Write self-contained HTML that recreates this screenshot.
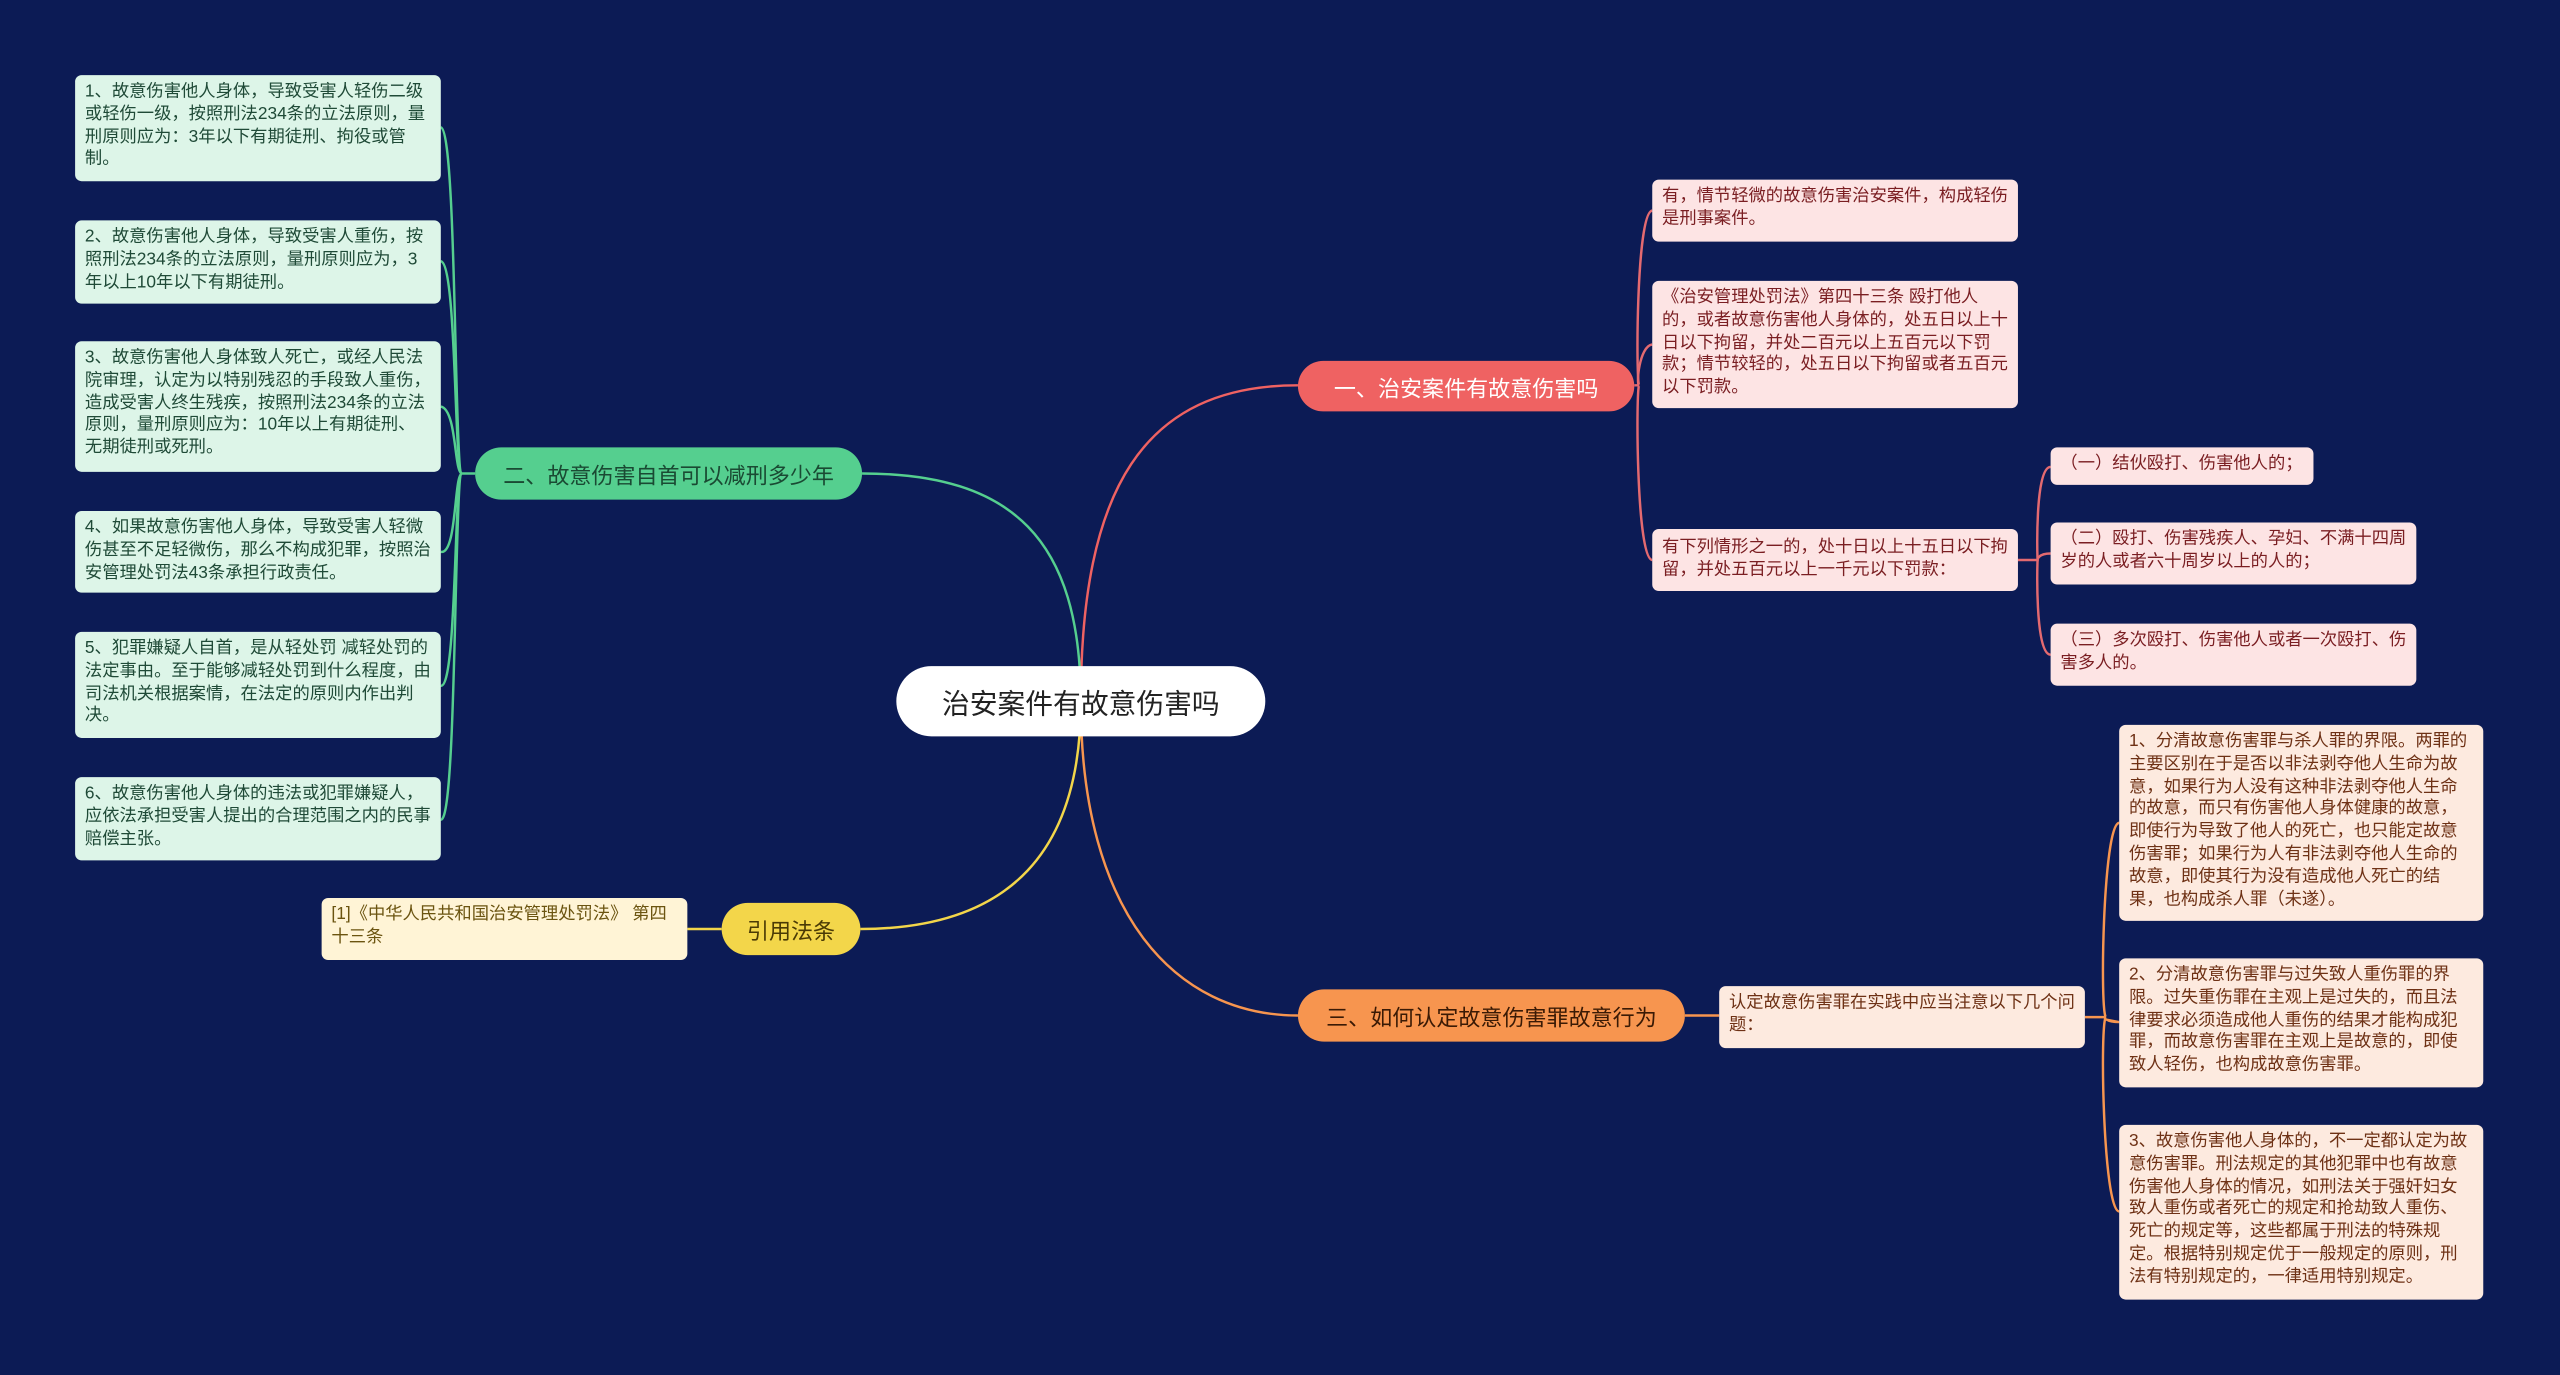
<!DOCTYPE html>
<html><head><meta charset="utf-8"><style>
html,body{margin:0;padding:0;background:#0c1b55;overflow:hidden}
#s{position:absolute;left:0;top:0;width:1568px;height:842px;transform:scale(1.63265);transform-origin:0 0;font-family:"Liberation Sans","Noto Sans CJK SC",sans-serif}
.b{position:absolute;box-sizing:border-box;border-radius:4px;font-size:10.6px;line-height:13.8px;padding:4px 6px;word-break:break-all}
.g{background:#ddf5e8;color:#1f4a37}
.r{background:#fde4e4;color:#7a1e22}
.o{background:#fdeadf;color:#6e3115}
.y{background:#fff4d6;color:#6b5410}
.m{position:absolute;box-sizing:border-box;border-radius:16px;font-size:13.5px;display:flex;align-items:center;justify-content:center;color:#fff}
svg{position:absolute;left:0;top:0}
</style></head><body><div id="s">
<svg width="1568" height="842" fill="none" stroke-width="1.5">
<path d="M662,430 C662,300 700,236 795,236" stroke="#ef6262"/>
<path d="M662,430 C662,330 620,290 528,290" stroke="#55cf8f"/>
<path d="M662,430 C662,520 620,569 527,569" stroke="#f3d64a"/>
<path d="M662,430 C662,560 720,622 795,622" stroke="#f7954f"/>
<g stroke="#55cf8f">
<path d="M291,290 H283 C278,290 280,80 270,78"/>
<path d="M283,290 C278,290 280,162 270,160"/>
<path d="M283,290 C278,290 280,251 270,249"/>
<path d="M283,290 C278,290 280,340 270,338"/>
<path d="M283,290 C278,290 280,422 270,420"/>
<path d="M283,290 C278,290 280,504 270,502"/>
</g>
<g stroke="#e46a70">
<path d="M1001,236 H1004 C1002,236 1002,130 1012,129"/>
<path d="M1004,236 C1002,236 1004,212 1012,211"/>
<path d="M1004,236 C1002,236 1002,342 1012,343"/>
<path d="M1236,343 H1248 C1248,343 1246,286 1256,286"/>
<path d="M1248,343 C1248,343 1248,339 1256,339"/>
<path d="M1248,343 C1248,343 1246,401 1256,401"/>
</g>
<path d="M442,569 H421" stroke="#f3d64a"/>
<g stroke="#f7954f">
<path d="M1032,622 H1053"/>
<path d="M1277,623 H1290 C1286,623 1288,504 1298,504"/>
<path d="M1290,623 C1288,623 1290,626 1298,626"/>
<path d="M1290,623 C1286,623 1288,742 1298,742"/>
</g>
</svg>
<div class="m" style="left:549px;top:408px;width:226px;height:43px;background:#fff;color:#222;font-size:17px;border-radius:22px">治安案件有故意伤害吗</div>
<div class="m" style="left:795px;top:221px;width:206px;height:31px;background:#ef6262">一、治安案件有故意伤害吗</div>
<div class="m" style="left:291px;top:274px;width:237px;height:32px;background:#55cf8f;color:#1a4a33">二、故意伤害自首可以减刑多少年</div>
<div class="m" style="left:442px;top:553px;width:85px;height:32px;background:#f3d64a;color:#4a3a05">引用法条</div>
<div class="m" style="left:795px;top:606px;width:237px;height:32px;background:#f7954f;color:#3a1a05">三、如何认定故意伤害罪故意行为</div>

<div class="b g" style="left:46px;top:46px;width:224px;height:65px">1、故意伤害他人身体，导致受害人轻伤二级或轻伤一级，按照刑法234条的立法原则，量刑原则应为：3年以下有期徒刑、拘役或管制。</div>
<div class="b g" style="left:46px;top:135px;width:224px;height:51px">2、故意伤害他人身体，导致受害人重伤，按照刑法234条的立法原则，量刑原则应为，3年以上10年以下有期徒刑。</div>
<div class="b g" style="left:46px;top:209px;width:224px;height:80px">3、故意伤害他人身体致人死亡，或经人民法院审理，认定为以特别残忍的手段致人重伤，造成受害人终生残疾，按照刑法234条的立法原则，量刑原则应为：10年以上有期徒刑、无期徒刑或死刑。</div>
<div class="b g" style="left:46px;top:313px;width:224px;height:50px">4、如果故意伤害他人身体，导致受害人轻微伤甚至不足轻微伤，那么不构成犯罪，按照治安管理处罚法43条承担行政责任。</div>
<div class="b g" style="left:46px;top:387px;width:224px;height:65px">5、犯罪嫌疑人自首，是从轻处罚 减轻处罚的法定事由。至于能够减轻处罚到什么程度，由司法机关根据案情，在法定的原则内作出判决。</div>
<div class="b g" style="left:46px;top:476px;width:224px;height:51px">6、故意伤害他人身体的违法或犯罪嫌疑人，应依法承担受害人提出的合理范围之内的民事赔偿主张。</div>

<div class="b r" style="left:1012px;top:110px;width:224px;height:38px">有，情节轻微的故意伤害治安案件，构成轻伤是刑事案件。</div>
<div class="b r" style="left:1012px;top:172px;width:224px;height:78px">《治安管理处罚法》第四十三条 殴打他人的，或者故意伤害他人身体的，处五日以上十日以下拘留，并处二百元以上五百元以下罚款；情节较轻的，处五日以下拘留或者五百元以下罚款。</div>
<div class="b r" style="left:1012px;top:324px;width:224px;height:38px;padding-top:5px">有下列情形之一的，处十日以上十五日以下拘留，并处五百元以上一千元以下罚款：</div>
<div class="b r" style="left:1256px;top:274px;width:161px;height:23px">（一）结伙殴打、伤害他人的；</div>
<div class="b r" style="left:1256px;top:320px;width:224px;height:38px">（二）殴打、伤害残疾人、孕妇、不满十四周岁的人或者六十周岁以上的人的；</div>
<div class="b r" style="left:1256px;top:382px;width:224px;height:38px">（三）多次殴打、伤害他人或者一次殴打、伤害多人的。</div>

<div class="b y" style="left:197px;top:550px;width:224px;height:38px">[1]《中华人民共和国治安管理处罚法》 第四十三条</div>

<div class="b o" style="left:1053px;top:604px;width:224px;height:38px">认定故意伤害罪在实践中应当注意以下几个问题：</div>
<div class="b o" style="left:1298px;top:444px;width:223px;height:120px">1、分清故意伤害罪与杀人罪的界限。两罪的主要区别在于是否以非法剥夺他人生命为故意，如果行为人没有这种非法剥夺他人生命的故意，而只有伤害他人身体健康的故意，即使行为导致了他人的死亡，也只能定故意伤害罪；如果行为人有非法剥夺他人生命的故意，即使其行为没有造成他人死亡的结果，也构成杀人罪（未遂）。</div>
<div class="b o" style="left:1298px;top:587px;width:223px;height:79px">2、分清故意伤害罪与过失致人重伤罪的界限。过失重伤罪在主观上是过失的，而且法律要求必须造成他人重伤的结果才能构成犯罪，而故意伤害罪在主观上是故意的，即使致人轻伤，也构成故意伤害罪。</div>
<div class="b o" style="left:1298px;top:689px;width:223px;height:107px">3、故意伤害他人身体的，不一定都认定为故意伤害罪。刑法规定的其他犯罪中也有故意伤害他人身体的情况，如刑法关于强奸妇女致人重伤或者死亡的规定和抢劫致人重伤、死亡的规定等，这些都属于刑法的特殊规定。根据特别规定优于一般规定的原则，刑法有特别规定的，一律适用特别规定。</div>
</div></body></html>
